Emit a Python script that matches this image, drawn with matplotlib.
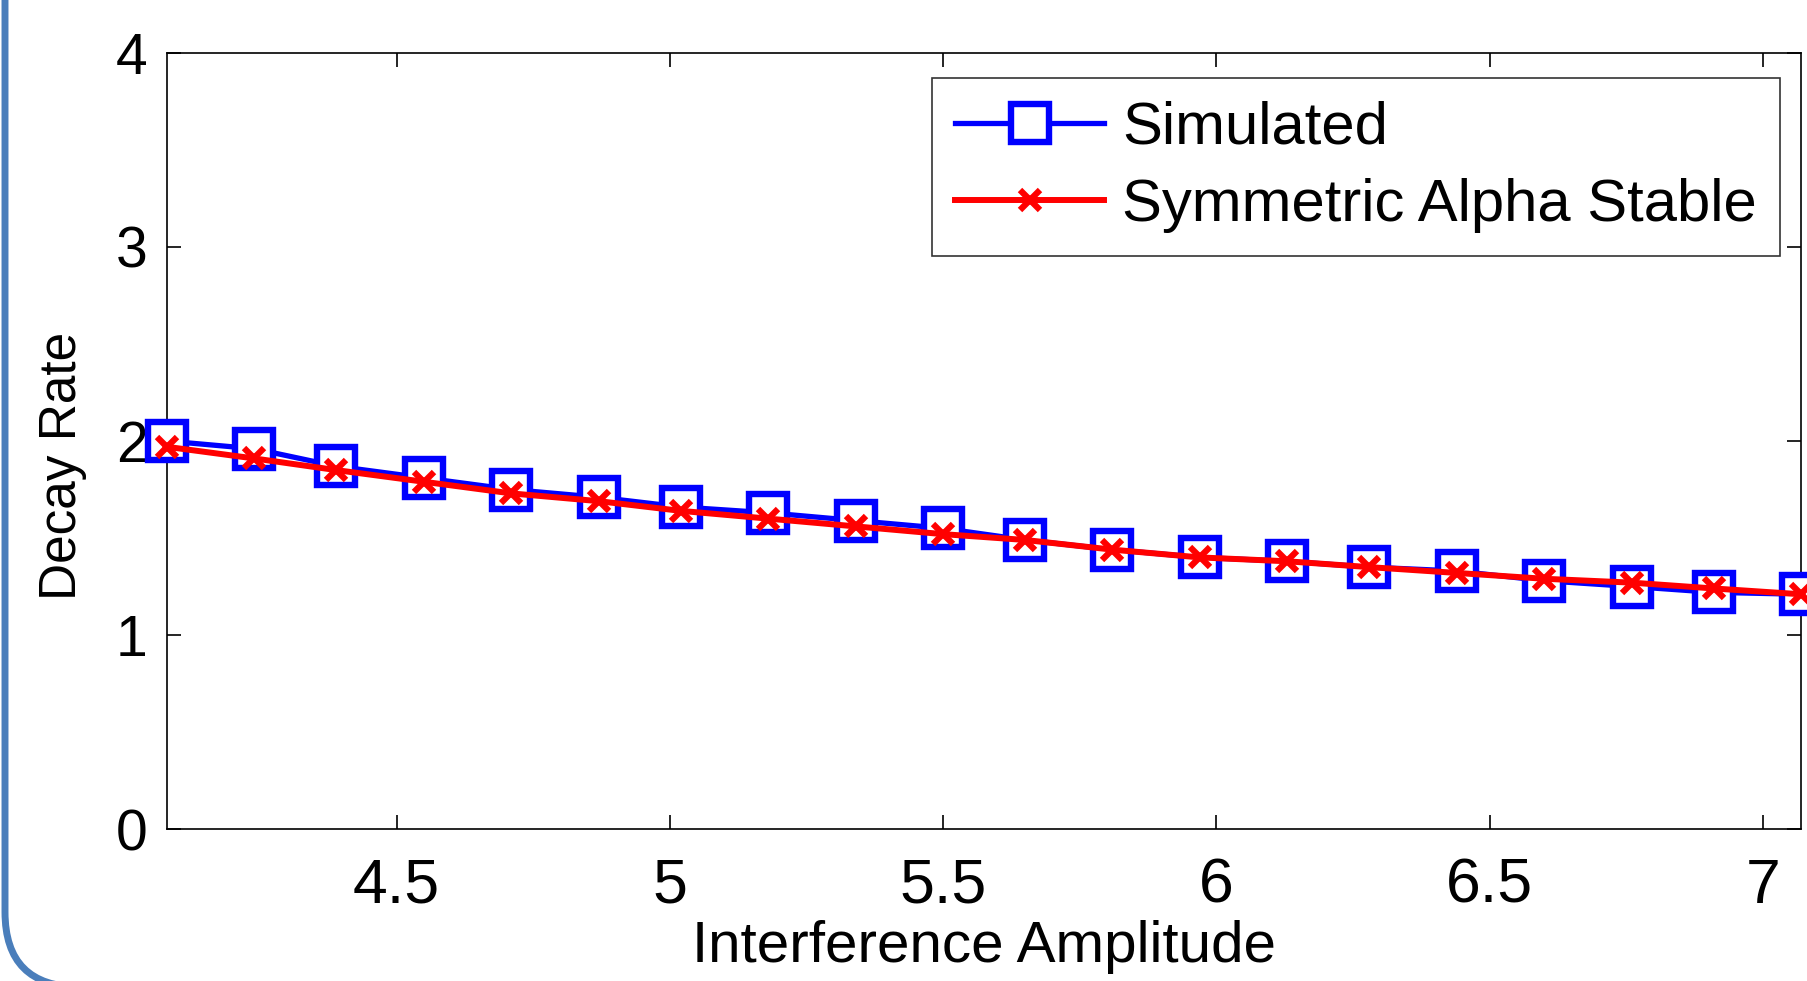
import matplotlib.pyplot as plt
from matplotlib.patches import FancyBboxPatch

amplitude = [4.08, 4.24, 4.39, 4.55, 4.71, 4.87, 5.02, 5.18, 5.34, 5.50,
             5.65, 5.81, 5.97, 6.13, 6.28, 6.44, 6.60, 6.76, 6.91, 7.07]
simulated = [2.00, 1.96, 1.87, 1.81, 1.75, 1.71, 1.66, 1.63, 1.59, 1.55,
             1.49, 1.44, 1.40, 1.38, 1.35, 1.33, 1.28, 1.25, 1.22, 1.21]
sas = [1.97, 1.91, 1.85, 1.79, 1.73, 1.69, 1.64, 1.60, 1.56, 1.52,
       1.49, 1.44, 1.40, 1.38, 1.35, 1.32, 1.29, 1.27, 1.24, 1.21]
xticks = [4.5, 5, 5.5, 6, 6.5, 7]
yticks = [0, 1, 2, 3, 4]

plt.rcParams['font.family'] = ['Liberation Sans', 'DejaVu Sans']

fig = plt.figure(figsize=(18.07, 9.81), dpi=100)
ax = fig.add_axes([0.0924, 0.1549, 0.9043, 0.7911])

ax.plot(amplitude, simulated, color='#0000ff', lw=3.8, marker='s', ms=27,
        mfc='white', mec='#0000ff', mew=4.6, label='Simulated', clip_on=False, zorder=3)
ax.plot(amplitude, sas, color='#ff0000', lw=4.3, marker='x', ms=15,
        mec='#ff0000', mew=4.5, label='Symmetric Alpha Stable', clip_on=False, zorder=4)

ax.set_xlim(amplitude[0], amplitude[-1])
ax.set_ylim(0, 4)
ax.set_xticks(xticks)
ax.set_xticklabels(['4.5', '5', '5.5', '6', '6.5', '7'])
ax.set_yticks(yticks)
ax.tick_params(axis='both', direction='in', length=10, width=1.2, top=True, right=True)
ax.tick_params(axis='x', labelsize=45, pad=20)
ax.tick_params(axis='y', labelsize=41, pad=14)
for s in ax.spines.values():
    s.set_linewidth(1.2)

ax.set_xlabel('Interference Amplitude', fontsize=42, labelpad=3)
ax.set_ylabel('Decay Rate', fontsize=37)
ax.yaxis.set_label_coords(-0.049, 0.468)

leg = ax.legend(loc='upper right', bbox_to_anchor=(0.987, 0.968), fontsize=43,
                frameon=True, fancybox=False, edgecolor='black', borderaxespad=0,
                handlelength=2.5, borderpad=0.38, labelspacing=0.38, handletextpad=0.3)
leg.get_frame().set_linewidth(1.2)

# rounded slide border on the left
border = FancyBboxPatch((0.05, -0.06), 30, 20, boxstyle='round,pad=0,rounding_size=0.75',
                        transform=fig.dpi_scale_trans, fill=False, edgecolor='#4a7ebb',
                        linewidth=5, clip_on=False)
fig.patches.append(border)

fig.savefig('out.png', dpi=100)
